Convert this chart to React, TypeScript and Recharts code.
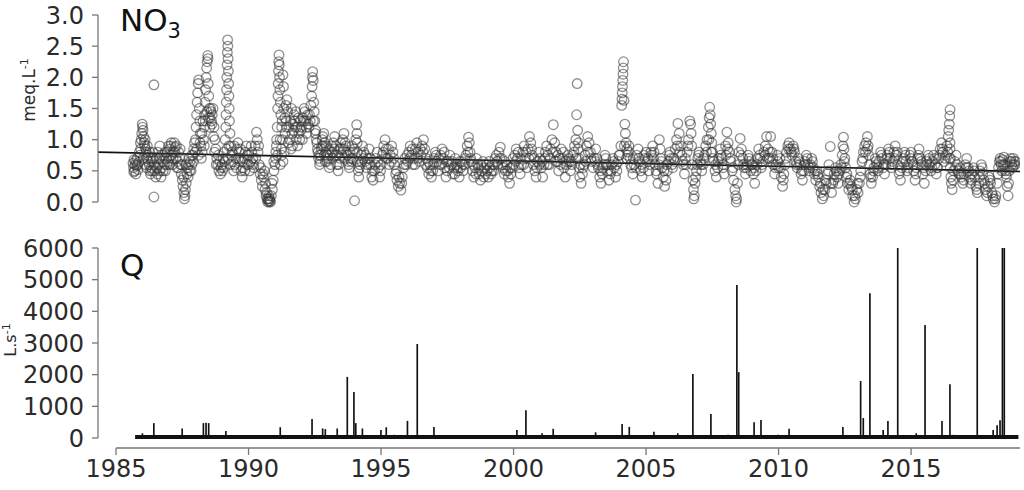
import React from 'react';
import { ScatterChart, ComposedChart, Scatter, Bar, XAxis, YAxis, ReferenceLine } from 'recharts';

// ---------- axes ----------
const X_DOMAIN: [number, number] = [1984.32, 2019.11];
const X_TICKS = [1985, 1990, 1995, 2000, 2005, 2010, 2015];
const X_AXIS_START = 1985;
const NO3_TICKS = [0, 0.5, 1, 1.5, 2, 2.5, 3];
const Q_TICKS = [0, 1000, 2000, 3000, 4000, 5000, 6000];

// ---------- NO3 (meq.L-1), [decimal year, value] ----------
const no3_1985_1987: [number, number][] = [
  [1985.64, 0.62], [1985.66, 0.55], [1985.68, 0.68], [1985.7, 0.5], [1985.72, 0.6], [1985.75, 0.45], [1985.78, 0.58],
  [1985.8, 0.7], [1985.83, 0.52], [1985.86, 0.64], [1985.9, 0.75], [1985.93, 0.85], [1985.95, 1.0], [1985.97, 1.1],
  [1986.0, 1.2], [1986.02, 1.15], [1986.04, 1.05], [1986.06, 0.95], [1986.08, 0.9], [1986.1, 1.0], [1986.12, 0.85],
  [1986.14, 0.8], [1986.16, 0.7], [1986.18, 0.9], [1986.2, 0.75], [1986.25, 0.6], [1986.28, 0.5], [1986.3, 0.45],
  [1986.33, 0.55], [1986.35, 0.65], [1986.38, 0.8], [1986.4, 0.7], [1986.43, 1.88], [1986.43, 0.08], [1986.46, 0.5],
  [1986.5, 0.4], [1986.53, 0.55], [1986.56, 0.45], [1986.6, 0.6], [1986.63, 0.7], [1986.66, 0.5], [1986.7, 0.4],
  [1986.73, 0.55], [1986.76, 0.65], [1986.8, 0.75], [1986.83, 0.6], [1986.86, 0.5], [1986.9, 0.7], [1986.93, 0.8],
  [1986.96, 0.65],
];
const no3_1987_1988: [number, number][] = [
  [1987.0, 0.7], [1987.03, 0.85], [1987.06, 0.9], [1987.1, 0.75], [1987.13, 0.6], [1987.16, 0.8], [1987.2, 0.95],
  [1987.23, 0.88], [1987.26, 0.7], [1987.3, 0.55], [1987.33, 0.65], [1987.36, 0.8], [1987.4, 0.72], [1987.43, 0.6],
  [1987.46, 0.45], [1987.5, 0.35], [1987.53, 0.25], [1987.56, 0.15], [1987.58, 0.05], [1987.6, 0.1], [1987.62, 0.2],
  [1987.65, 0.3], [1987.68, 0.45], [1987.7, 0.55], [1987.73, 0.6], [1987.76, 0.7], [1987.8, 0.65], [1987.83, 0.5],
  [1987.86, 0.6], [1987.9, 0.75], [1987.93, 0.85], [1987.96, 0.95],
];
const no3_1988_1989: [number, number][] = [
  [1988.0, 1.0], [1988.02, 1.2], [1988.04, 1.4], [1988.06, 1.6], [1988.08, 1.75], [1988.1, 1.9], [1988.12, 1.96],
  [1988.14, 1.5], [1988.16, 1.3], [1988.18, 1.1], [1988.2, 0.9], [1988.22, 0.7], [1988.25, 0.8], [1988.3, 1.0],
  [1988.32, 1.2], [1988.34, 1.4], [1988.36, 1.6], [1988.38, 1.8], [1988.4, 2.0], [1988.42, 2.15], [1988.44, 2.25],
  [1988.46, 2.35], [1988.47, 2.3], [1988.48, 1.9], [1988.5, 1.7], [1988.52, 1.5], [1988.55, 1.35], [1988.58, 1.45],
  [1988.6, 1.3], [1988.63, 1.4], [1988.66, 1.5], [1988.7, 1.2], [1988.73, 1.0], [1988.76, 0.85], [1988.8, 0.7],
  [1988.84, 0.6], [1988.88, 0.5], [1988.92, 0.65], [1988.96, 0.55],
];
const no3_1989_1990: [number, number][] = [
  [1989.0, 0.6], [1989.04, 0.7], [1989.08, 0.8], [1989.12, 1.0], [1989.14, 1.2], [1989.15, 1.4], [1989.16, 1.6],
  [1989.17, 1.8], [1989.18, 2.0], [1989.19, 2.2], [1989.2, 2.4], [1989.21, 2.6], [1989.22, 2.5], [1989.23, 2.3],
  [1989.24, 2.1], [1989.25, 1.9], [1989.26, 1.7], [1989.27, 1.5], [1989.28, 1.3], [1989.3, 1.1], [1989.33, 0.9],
  [1989.36, 0.75], [1989.4, 0.65], [1989.44, 0.5], [1989.48, 0.6], [1989.52, 0.7], [1989.56, 0.85], [1989.6, 0.95],
  [1989.64, 0.8], [1989.68, 0.65], [1989.72, 0.5], [1989.76, 0.4], [1989.8, 0.55], [1989.84, 0.7], [1989.88, 0.8],
  [1989.92, 0.9], [1989.96, 0.75],
];
const no3_1990_1991: [number, number][] = [
  [1990.0, 0.6], [1990.04, 0.5], [1990.08, 0.65], [1990.12, 0.8], [1990.16, 0.7], [1990.2, 0.55], [1990.25, 0.9],
  [1990.3, 1.12], [1990.33, 1.0], [1990.36, 0.8], [1990.4, 0.6], [1990.44, 0.45], [1990.48, 0.35], [1990.52, 0.25],
  [1990.56, 0.4], [1990.6, 0.5], [1990.64, 0.3], [1990.68, 0.15], [1990.7, 0.05], [1990.72, 0.0], [1990.75, 0.02],
  [1990.78, 0.0], [1990.8, 0.05], [1990.83, 0.0], [1990.86, 0.1], [1990.9, 0.2], [1990.93, 0.35], [1990.96, 0.5],
];
const no3_1991_1992: [number, number][] = [
  [1991.0, 0.6], [1991.03, 0.8], [1991.06, 1.0], [1991.08, 1.2], [1991.1, 1.5], [1991.11, 1.7], [1991.12, 1.9],
  [1991.13, 2.1], [1991.14, 2.25], [1991.15, 2.36], [1991.16, 2.2], [1991.17, 2.0], [1991.18, 1.8], [1991.2, 1.6],
  [1991.22, 1.4], [1991.25, 1.2], [1991.28, 1.0], [1991.3, 2.04], [1991.32, 1.85], [1991.35, 0.8], [1991.38, 1.1],
  [1991.42, 1.3], [1991.45, 1.64], [1991.48, 1.45], [1991.52, 1.2], [1991.55, 1.0], [1991.6, 0.85], [1991.64, 1.1],
  [1991.68, 1.25], [1991.72, 1.4], [1991.76, 1.2], [1991.8, 1.0], [1991.85, 0.9], [1991.9, 1.1], [1991.95, 1.3],
  [1991.2, 0.6], [1991.25, 0.75], [1991.3, 0.65],
];
const no3_1992_1993: [number, number][] = [
  [1992.0, 1.2], [1992.05, 1.35], [1992.1, 1.5], [1992.15, 1.3], [1992.2, 1.1], [1992.25, 1.25], [1992.3, 1.4],
  [1992.35, 1.55], [1992.38, 1.7], [1992.4, 1.85], [1992.41, 2.0], [1992.42, 2.09], [1992.44, 1.95], [1992.46, 1.6],
  [1992.48, 1.45], [1992.5, 1.3], [1992.53, 1.15], [1992.56, 1.0], [1992.6, 0.85], [1992.64, 0.7], [1992.68, 0.6],
  [1992.72, 0.75], [1992.76, 0.9], [1992.8, 1.05], [1992.84, 1.1], [1992.88, 0.95], [1992.92, 0.8], [1992.96, 0.65],
];
const no3_1993_1994: [number, number][] = [
  [1993.0, 0.7], [1993.05, 0.55], [1993.1, 0.6], [1993.15, 0.8], [1993.2, 0.95], [1993.25, 1.05], [1993.3, 0.9],
  [1993.35, 0.75], [1993.4, 0.6], [1993.45, 0.7], [1993.5, 0.85], [1993.55, 1.0], [1993.6, 1.1], [1993.65, 0.95],
  [1993.7, 0.8], [1993.75, 0.65], [1993.8, 0.55], [1993.85, 0.7], [1993.9, 0.9], [1993.95, 0.8], [1994.0, 0.02],
];
const no3_1994_1996: [number, number][] = [
  [1994.05, 1.0], [1994.08, 1.24], [1994.09, 1.1], [1994.1, 0.95], [1994.11, 0.8], [1994.12, 0.65], [1994.14, 0.5],
  [1994.16, 0.4], [1994.2, 0.6], [1994.25, 0.75], [1994.3, 0.9], [1994.35, 0.8], [1994.4, 0.65], [1994.45, 0.55],
  [1994.5, 0.7], [1994.55, 0.85], [1994.6, 0.6], [1994.65, 0.4], [1994.7, 0.35], [1994.75, 0.5], [1994.8, 0.7],
  [1994.85, 0.8], [1994.9, 0.55], [1994.95, 0.4],
  [1995.0, 0.6], [1995.05, 0.75], [1995.1, 0.9], [1995.15, 1.0], [1995.2, 0.85], [1995.25, 0.7], [1995.3, 0.6],
  [1995.35, 0.75], [1995.4, 0.9], [1995.45, 0.8], [1995.5, 0.6], [1995.55, 0.45], [1995.6, 0.35], [1995.65, 0.25],
  [1995.7, 0.3], [1995.75, 0.19], [1995.8, 0.4], [1995.85, 0.55], [1995.9, 0.7], [1995.95, 0.6],
];
const no3_1996_1998: [number, number][] = [
  [1996.0, 0.65], [1996.05, 0.8], [1996.1, 0.9], [1996.15, 0.75], [1996.2, 0.6], [1996.25, 0.7], [1996.3, 0.85],
  [1996.35, 0.95], [1996.4, 0.8], [1996.45, 0.65], [1996.5, 0.75], [1996.55, 0.9], [1996.6, 1.0], [1996.65, 0.85],
  [1996.7, 0.7], [1996.75, 0.55], [1996.8, 0.45], [1996.85, 0.6], [1996.9, 0.4], [1996.95, 0.5],
  [1997.0, 0.7], [1997.05, 0.8], [1997.1, 0.65], [1997.15, 0.5], [1997.2, 0.6], [1997.25, 0.75], [1997.3, 0.85],
  [1997.35, 0.7], [1997.4, 0.55], [1997.45, 0.4], [1997.5, 0.5], [1997.55, 0.65], [1997.6, 0.75], [1997.65, 0.6],
  [1997.7, 0.45], [1997.75, 0.55], [1997.8, 0.7], [1997.85, 0.6], [1997.9, 0.5], [1997.95, 0.4],
];
const no3_1998_2000: [number, number][] = [
  [1998.0, 0.55], [1998.05, 0.65], [1998.1, 0.5], [1998.15, 0.6], [1998.2, 0.75], [1998.25, 0.9], [1998.3, 1.04],
  [1998.33, 0.95], [1998.36, 0.8], [1998.4, 0.65], [1998.45, 0.5], [1998.5, 0.4], [1998.55, 0.55], [1998.6, 0.7],
  [1998.65, 0.6], [1998.7, 0.45], [1998.75, 0.35], [1998.8, 0.5], [1998.85, 0.65], [1998.9, 0.55], [1998.95, 0.45],
  [1999.0, 0.5], [1999.05, 0.4], [1999.1, 0.55], [1999.15, 0.45], [1999.2, 0.6], [1999.25, 0.5], [1999.3, 0.7],
  [1999.35, 0.75], [1999.4, 0.6], [1999.45, 0.8], [1999.5, 0.88], [1999.55, 0.7], [1999.6, 0.55], [1999.65, 0.45],
  [1999.7, 0.5], [1999.75, 0.6], [1999.8, 0.4], [1999.85, 0.3], [1999.9, 0.45], [1999.95, 0.55],
];
const no3_2000_2002: [number, number][] = [
  [2000.0, 0.6], [2000.05, 0.75], [2000.1, 0.85], [2000.15, 0.7], [2000.2, 0.55], [2000.25, 0.45], [2000.3, 0.6],
  [2000.35, 0.8], [2000.4, 0.9], [2000.45, 0.7], [2000.5, 0.55], [2000.55, 0.85], [2000.6, 1.05], [2000.65, 0.95],
  [2000.7, 0.75], [2000.75, 0.6], [2000.8, 0.5], [2000.85, 0.4], [2000.9, 0.65], [2000.95, 0.8],
  [2001.0, 0.7], [2001.05, 0.55], [2001.1, 0.4], [2001.15, 0.6], [2001.2, 0.8], [2001.25, 0.9], [2001.3, 0.75],
  [2001.35, 0.6], [2001.4, 0.85], [2001.45, 1.0], [2001.5, 1.24], [2001.55, 0.95], [2001.6, 0.8], [2001.65, 0.65],
  [2001.7, 0.5], [2001.75, 0.7], [2001.8, 0.85], [2001.85, 0.7], [2001.9, 0.55], [2001.95, 0.4],
];
const no3_2002_2004: [number, number][] = [
  [2002.0, 0.6], [2002.05, 0.75], [2002.1, 0.65], [2002.15, 0.5], [2002.2, 0.6], [2002.25, 0.75], [2002.3, 0.9],
  [2002.35, 1.0], [2002.38, 1.4], [2002.4, 1.9], [2002.42, 1.15], [2002.44, 0.85], [2002.46, 0.7], [2002.48, 0.55],
  [2002.5, 0.4], [2002.55, 0.3], [2002.6, 0.45], [2002.65, 0.6], [2002.7, 0.75], [2002.75, 0.9], [2002.8, 1.05],
  [2002.85, 0.95], [2002.9, 0.8], [2002.95, 0.65],
  [2003.0, 0.55], [2003.05, 0.7], [2003.1, 0.85], [2003.15, 0.7], [2003.2, 0.55], [2003.25, 0.4], [2003.3, 0.3],
  [2003.35, 0.45], [2003.4, 0.6], [2003.45, 0.75], [2003.5, 0.6], [2003.55, 0.5], [2003.6, 0.35], [2003.65, 0.45],
  [2003.7, 0.6], [2003.75, 0.7], [2003.8, 0.55], [2003.85, 0.4], [2003.9, 0.5], [2003.95, 0.65],
];
const no3_2004_2006: [number, number][] = [
  [2004.0, 0.75], [2004.05, 0.9], [2004.08, 1.55], [2004.09, 1.65], [2004.1, 1.75], [2004.11, 1.85], [2004.12, 1.95],
  [2004.13, 2.05], [2004.14, 2.15], [2004.15, 2.25], [2004.17, 1.63], [2004.2, 1.25], [2004.22, 1.1], [2004.25, 0.95],
  [2004.28, 0.85], [2004.3, 0.75], [2004.35, 0.9], [2004.4, 0.7], [2004.45, 0.55], [2004.5, 0.45], [2004.55, 0.6],
  [2004.6, 0.03], [2004.65, 0.75], [2004.7, 0.85], [2004.75, 0.65], [2004.8, 0.5], [2004.85, 0.4], [2004.9, 0.55],
  [2004.95, 0.7],
  [2005.0, 0.8], [2005.05, 0.65], [2005.1, 0.5], [2005.15, 0.6], [2005.2, 0.75], [2005.25, 0.9], [2005.3, 0.8],
  [2005.35, 0.6], [2005.4, 0.45], [2005.45, 0.3], [2005.5, 1.0], [2005.53, 0.85], [2005.56, 0.7], [2005.6, 0.55],
  [2005.65, 0.4], [2005.7, 0.25], [2005.75, 0.35], [2005.8, 0.5], [2005.85, 0.65], [2005.9, 0.8], [2005.95, 0.7],
];
const no3_2006_2008: [number, number][] = [
  [2006.0, 0.55], [2006.05, 0.7], [2006.1, 0.85], [2006.15, 1.0], [2006.2, 1.26], [2006.25, 1.1], [2006.3, 0.9],
  [2006.35, 0.75], [2006.4, 0.6], [2006.45, 0.45], [2006.5, 0.6], [2006.55, 0.8], [2006.6, 1.0], [2006.65, 1.3],
  [2006.68, 1.25], [2006.72, 0.9], [2006.75, 0.6], [2006.77, 0.35], [2006.79, 0.2], [2006.8, 0.05], [2006.82, 0.1],
  [2006.85, 0.3], [2006.9, 0.5], [2006.95, 0.7],
  [2007.0, 0.8], [2007.05, 0.65], [2007.1, 0.5], [2007.15, 0.6], [2007.2, 0.75], [2007.25, 0.9], [2007.3, 1.0],
  [2007.35, 1.2], [2007.38, 1.35], [2007.4, 1.52], [2007.42, 1.4], [2007.44, 1.25], [2007.46, 1.1], [2007.48, 0.95],
  [2007.5, 0.8], [2007.55, 0.65], [2007.6, 0.5], [2007.65, 0.4], [2007.7, 0.55], [2007.75, 0.7], [2007.8, 0.85],
  [2007.85, 0.7], [2007.9, 0.55], [2007.95, 0.45],
];
const no3_2008_2010: [number, number][] = [
  [2008.0, 0.9], [2008.05, 1.12], [2008.1, 0.95], [2008.15, 0.8], [2008.2, 0.65], [2008.25, 0.5], [2008.3, 0.35],
  [2008.35, 0.2], [2008.38, 0.1], [2008.4, 0.0], [2008.42, 0.05], [2008.45, 0.3], [2008.5, 0.8], [2008.55, 1.02],
  [2008.6, 0.85], [2008.65, 0.7], [2008.7, 0.55], [2008.75, 0.45], [2008.8, 0.6], [2008.85, 0.75], [2008.9, 0.65],
  [2008.95, 0.5],
  [2009.0, 0.6], [2009.05, 0.45], [2009.1, 0.3], [2009.15, 0.5], [2009.2, 0.7], [2009.25, 0.85], [2009.3, 0.7],
  [2009.35, 0.55], [2009.4, 0.65], [2009.45, 0.8], [2009.5, 0.9], [2009.55, 1.05], [2009.6, 0.85], [2009.65, 0.7],
  [2009.7, 1.05], [2009.75, 0.8], [2009.8, 0.6], [2009.85, 0.45], [2009.9, 0.6], [2009.95, 0.75],
];
const no3_2010_2012: [number, number][] = [
  [2010.0, 0.55], [2010.05, 0.7], [2010.1, 0.4], [2010.15, 0.25], [2010.2, 0.45], [2010.25, 0.6], [2010.3, 0.8],
  [2010.35, 0.9], [2010.4, 0.95], [2010.45, 0.85], [2010.5, 0.75], [2010.55, 0.9], [2010.6, 0.8], [2010.65, 0.65],
  [2010.7, 0.55], [2010.75, 0.7], [2010.8, 0.6], [2010.85, 0.45], [2010.9, 0.35], [2010.95, 0.5],
  [2011.0, 0.65], [2011.05, 0.75], [2011.1, 0.6], [2011.15, 0.5], [2011.2, 0.6], [2011.25, 0.7], [2011.3, 0.55],
  [2011.35, 0.45], [2011.4, 0.35], [2011.45, 0.5], [2011.5, 0.4], [2011.55, 0.25], [2011.6, 0.15], [2011.65, 0.05],
  [2011.7, 0.1], [2011.75, 0.2], [2011.8, 0.3], [2011.85, 0.45], [2011.9, 0.6], [2011.95, 0.89],
];
const no3_2012_2014: [number, number][] = [
  [2012.0, 0.15], [2012.05, 0.3], [2012.1, 0.45], [2012.15, 0.55], [2012.2, 0.4], [2012.25, 0.3], [2012.3, 0.5],
  [2012.35, 0.6], [2012.4, 0.75], [2012.43, 0.9], [2012.45, 1.04], [2012.47, 0.85], [2012.5, 0.7], [2012.53, 0.55],
  [2012.56, 0.4], [2012.6, 0.3], [2012.65, 0.2], [2012.7, 0.35], [2012.75, 0.25], [2012.8, 0.1], [2012.85, 0.0],
  [2012.9, 0.05], [2012.95, 0.2],
  [2013.0, 0.15], [2013.05, 0.3], [2013.1, 0.5], [2013.15, 0.65], [2013.2, 0.8], [2013.25, 0.9], [2013.3, 0.95],
  [2013.35, 1.05], [2013.38, 0.9], [2013.4, 0.75], [2013.43, 0.6], [2013.46, 0.45], [2013.5, 0.3], [2013.55, 0.4],
  [2013.6, 0.55], [2013.65, 0.7], [2013.7, 0.6], [2013.75, 0.5], [2013.8, 0.65], [2013.85, 0.8], [2013.9, 0.7],
  [2013.95, 0.55],
];
const no3_2014_2016: [number, number][] = [
  [2014.0, 0.45], [2014.05, 0.6], [2014.1, 0.75], [2014.15, 0.85], [2014.2, 0.7], [2014.25, 0.55], [2014.3, 0.65],
  [2014.35, 0.8], [2014.4, 0.9], [2014.45, 0.75], [2014.5, 0.6], [2014.55, 0.45], [2014.6, 0.35], [2014.65, 0.55],
  [2014.7, 0.7], [2014.75, 0.8], [2014.8, 0.65], [2014.85, 0.5], [2014.9, 0.6], [2014.95, 0.75],
  [2015.0, 0.8], [2015.05, 0.65], [2015.1, 0.5], [2015.15, 0.35], [2015.2, 0.55], [2015.25, 0.7], [2015.3, 0.85],
  [2015.35, 0.7], [2015.4, 0.6], [2015.45, 0.45], [2015.5, 0.3], [2015.55, 0.5], [2015.6, 0.65], [2015.65, 0.75],
  [2015.7, 0.6], [2015.75, 0.5], [2015.8, 0.65], [2015.85, 0.75], [2015.9, 0.6], [2015.95, 0.45],
];
const no3_2016_2019: [number, number][] = [
  [2016.0, 0.55], [2016.05, 0.7], [2016.1, 0.85], [2016.15, 0.95], [2016.2, 0.8], [2016.25, 0.65], [2016.3, 0.75],
  [2016.35, 0.9], [2016.4, 1.05], [2016.42, 1.15], [2016.44, 1.25], [2016.46, 1.38], [2016.47, 1.48], [2016.48, 0.55],
  [2016.5, 0.4], [2016.52, 0.3], [2016.55, 0.2], [2016.6, 0.5], [2016.65, 0.65], [2016.7, 0.75], [2016.75, 0.6],
  [2016.8, 0.45], [2016.85, 0.55], [2016.9, 0.4], [2016.95, 0.3],
  [2017.0, 0.45], [2017.05, 0.6], [2017.1, 0.7], [2017.15, 0.55], [2017.2, 0.4], [2017.25, 0.3], [2017.3, 0.45],
  [2017.35, 0.55], [2017.4, 0.4], [2017.45, 0.25], [2017.5, 0.15], [2017.55, 0.3], [2017.6, 0.5], [2017.65, 0.6],
  [2017.7, 0.45], [2017.75, 0.35], [2017.8, 0.2], [2017.85, 0.1], [2017.9, 0.25], [2017.95, 0.4],
  [2018.0, 0.3], [2018.05, 0.15], [2018.1, 0.05], [2018.15, 0.0], [2018.2, 0.1], [2018.25, 0.3], [2018.3, 0.55],
  [2018.33, 0.65], [2018.36, 0.7], [2018.4, 0.6], [2018.43, 0.5], [2018.46, 0.68], [2018.5, 0.72], [2018.53, 0.6],
  [2018.56, 0.5], [2018.6, 0.4], [2018.63, 0.25], [2018.66, 0.1], [2018.7, 0.5], [2018.73, 0.65], [2018.76, 0.7],
  [2018.8, 0.6], [2018.83, 0.55], [2018.86, 0.7], [2018.9, 0.65], [2018.93, 0.6],
];

// additional samples between the ones above (dense sampling periods)
const no3_more_1985_1991: [number, number][] = [
  [1985.67, 0.48], [1985.74, 0.66], [1985.81, 0.6], [1985.88, 0.8], [1985.92, 0.95], [1985.99, 1.25], [1986.03, 0.7],
  [1986.09, 0.6], [1986.15, 0.55], [1986.22, 0.65], [1986.27, 0.8], [1986.32, 0.7], [1986.37, 0.5], [1986.45, 0.6],
  [1986.52, 0.7], [1986.58, 0.8], [1986.65, 0.9], [1986.72, 0.75], [1986.78, 0.5], [1986.85, 0.8], [1986.92, 0.6],
  [1986.98, 0.9], [1987.02, 0.6], [1987.08, 0.95], [1987.15, 0.7], [1987.22, 0.8], [1987.28, 0.9], [1987.35, 0.55],
  [1987.42, 0.85], [1987.48, 0.6], [1987.55, 0.4], [1987.64, 0.6], [1987.72, 0.4], [1987.78, 0.5], [1987.85, 0.75],
  [1987.92, 0.65], [1987.98, 0.8], [1988.05, 0.85], [1988.11, 0.75], [1988.17, 0.95], [1988.24, 1.1], [1988.28, 1.3],
  [1988.33, 0.9], [1988.37, 1.3], [1988.43, 1.45], [1988.49, 1.35], [1988.54, 1.2], [1988.57, 1.5], [1988.62, 1.25],
  [1988.68, 1.05], [1988.72, 0.8], [1988.78, 0.6], [1988.86, 0.75], [1988.94, 0.45], [1989.02, 0.5], [1989.06, 0.55],
  [1989.1, 0.65], [1989.18, 0.85], [1989.22, 0.7], [1989.26, 0.9], [1989.31, 0.6], [1989.38, 0.8], [1989.46, 0.9],
  [1989.54, 0.55], [1989.62, 0.7], [1989.7, 0.85], [1989.78, 0.65], [1989.86, 0.5], [1989.94, 0.6], [1990.02, 0.75],
  [1990.1, 0.9], [1990.18, 0.6], [1990.27, 0.7], [1990.38, 0.9], [1990.46, 0.55], [1990.54, 0.45], [1990.62, 0.2],
  [1990.66, 0.1], [1990.74, 0.05], [1990.77, 0.1], [1990.81, 0.02], [1990.88, 0.3], [1990.95, 0.65],
];
const no3_more_1991_1994: [number, number][] = [
  [1991.02, 0.7], [1991.05, 0.9], [1991.09, 0.75], [1991.19, 1.0], [1991.24, 0.85], [1991.27, 1.3], [1991.33, 1.5],
  [1991.37, 1.35], [1991.41, 1.55], [1991.44, 1.2], [1991.5, 0.95], [1991.58, 1.3], [1991.62, 1.5], [1991.66, 0.9],
  [1991.7, 1.15], [1991.74, 1.3], [1991.78, 1.45], [1991.83, 1.2], [1991.88, 1.35], [1991.93, 1.0], [1991.98, 1.15],
  [1992.03, 1.0], [1992.08, 1.3], [1992.12, 1.45], [1992.18, 1.2], [1992.23, 1.4], [1992.28, 1.2], [1992.33, 1.3],
  [1992.45, 1.3], [1992.52, 1.1], [1992.58, 0.95], [1992.62, 0.8], [1992.66, 0.75], [1992.7, 0.65], [1992.74, 0.85],
  [1992.78, 1.0], [1992.82, 0.9], [1992.86, 0.75], [1992.9, 0.65], [1992.94, 0.9], [1992.98, 0.75], [1993.03, 0.85],
  [1993.08, 0.75], [1993.13, 0.9], [1993.18, 0.7], [1993.23, 0.85], [1993.28, 0.75], [1993.33, 0.6], [1993.38, 0.5],
  [1993.43, 0.85], [1993.48, 0.95], [1993.53, 0.75], [1993.58, 0.85], [1993.63, 0.7], [1993.68, 0.9], [1993.73, 0.75],
  [1993.78, 0.6], [1993.83, 0.8], [1993.88, 0.65], [1993.93, 0.7], [1993.98, 0.85],
];
const no3_more_1994_2001: [number, number][] = [
  [1994.18, 0.55], [1994.27, 0.65], [1994.33, 0.7], [1994.42, 0.75], [1994.48, 0.6], [1994.58, 0.7], [1994.68, 0.5],
  [1994.78, 0.6], [1994.88, 0.65], [1994.98, 0.5], [1995.08, 0.8], [1995.18, 0.7], [1995.28, 0.85], [1995.38, 0.65],
  [1995.48, 0.7], [1995.58, 0.5], [1995.68, 0.4], [1995.78, 0.3], [1995.88, 0.6], [1995.98, 0.75], [1996.08, 0.7],
  [1996.18, 0.85], [1996.28, 0.6], [1996.38, 0.7], [1996.48, 0.85], [1996.58, 0.8], [1996.68, 0.6], [1996.78, 0.65],
  [1996.88, 0.5], [1996.98, 0.6], [1997.08, 0.75], [1997.18, 0.7], [1997.28, 0.6], [1997.38, 0.8], [1997.48, 0.65],
  [1997.58, 0.55], [1997.68, 0.65], [1997.78, 0.45], [1997.88, 0.55], [1997.98, 0.65], [1998.08, 0.6], [1998.18, 0.7],
  [1998.28, 0.8], [1998.38, 0.7], [1998.48, 0.6], [1998.58, 0.45], [1998.68, 0.55], [1998.78, 0.6], [1998.88, 0.4],
  [1998.98, 0.6], [1999.08, 0.65], [1999.18, 0.5], [1999.28, 0.6], [1999.38, 0.65], [1999.48, 0.7], [1999.58, 0.6],
  [1999.68, 0.65], [1999.78, 0.5], [1999.88, 0.55], [1999.98, 0.7], [2000.08, 0.65], [2000.18, 0.8], [2000.28, 0.7],
  [2000.38, 0.6], [2000.48, 0.8], [2000.58, 0.7], [2000.68, 0.85], [2000.78, 0.7], [2000.88, 0.55], [2000.98, 0.6],
];
const no3_more_2001_2007: [number, number][] = [
  [2001.08, 0.65], [2001.18, 0.7], [2001.28, 0.6], [2001.38, 0.7], [2001.48, 0.8], [2001.58, 0.65], [2001.68, 0.75],
  [2001.78, 0.6], [2001.88, 0.8], [2001.98, 0.65], [2002.08, 0.7], [2002.18, 0.65], [2002.28, 0.8], [2002.36, 0.7],
  [2002.45, 0.95], [2002.52, 0.6], [2002.62, 0.55], [2002.72, 0.65], [2002.82, 0.8], [2002.92, 0.7], [2003.08, 0.65],
  [2003.18, 0.6], [2003.28, 0.5], [2003.38, 0.55], [2003.48, 0.7], [2003.58, 0.6], [2003.68, 0.5], [2003.78, 0.65],
  [2003.88, 0.6], [2003.98, 0.75], [2004.18, 0.9], [2004.26, 0.7], [2004.33, 0.8], [2004.42, 0.6], [2004.52, 0.7],
  [2004.62, 0.55], [2004.72, 0.7], [2004.82, 0.6], [2004.92, 0.75], [2005.08, 0.7], [2005.18, 0.8], [2005.28, 0.7],
  [2005.38, 0.5], [2005.48, 0.6], [2005.58, 0.65], [2005.68, 0.5], [2005.78, 0.6], [2005.88, 0.75], [2005.98, 0.6],
  [2006.08, 0.65], [2006.18, 0.9], [2006.28, 0.8], [2006.38, 0.65], [2006.48, 0.7], [2006.58, 0.9], [2006.7, 1.1],
  [2006.87, 0.4], [2006.93, 0.6], [2006.98, 0.75],
];
const no3_more_2007_2013: [number, number][] = [
  [2007.08, 0.6], [2007.18, 0.7], [2007.28, 0.8], [2007.37, 1.0], [2007.45, 0.8], [2007.52, 0.7], [2007.62, 0.6],
  [2007.72, 0.65], [2007.82, 0.75], [2007.92, 0.6], [2008.02, 0.75], [2008.08, 0.85], [2008.18, 0.7], [2008.28, 0.55],
  [2008.48, 0.6], [2008.58, 0.75], [2008.68, 0.6], [2008.78, 0.55], [2008.88, 0.7], [2008.98, 0.6], [2009.08, 0.55],
  [2009.18, 0.6], [2009.28, 0.75], [2009.38, 0.6], [2009.48, 0.75], [2009.58, 0.7], [2009.68, 0.8], [2009.78, 0.7],
  [2009.88, 0.55], [2009.98, 0.65], [2010.08, 0.55], [2010.18, 0.35], [2010.28, 0.7], [2010.38, 0.85], [2010.48, 0.8],
  [2010.58, 0.85], [2010.68, 0.6], [2010.78, 0.65], [2010.88, 0.5], [2010.98, 0.6], [2011.08, 0.7], [2011.18, 0.55],
  [2011.28, 0.65], [2011.38, 0.5], [2011.48, 0.45], [2011.58, 0.3], [2011.68, 0.2], [2011.78, 0.35], [2011.88, 0.5],
  [2011.98, 0.3], [2012.08, 0.35], [2012.18, 0.5], [2012.28, 0.45], [2012.38, 0.55], [2012.48, 0.65], [2012.58, 0.45],
  [2012.68, 0.3], [2012.78, 0.2], [2012.88, 0.1], [2012.98, 0.3],
];
const no3_more_2013_2019: [number, number][] = [
  [2013.08, 0.4], [2013.18, 0.7], [2013.28, 0.8], [2013.36, 0.85], [2013.48, 0.4], [2013.58, 0.5], [2013.68, 0.65],
  [2013.78, 0.55], [2013.88, 0.75], [2013.98, 0.6], [2014.08, 0.7], [2014.18, 0.8], [2014.28, 0.6], [2014.38, 0.7],
  [2014.48, 0.8], [2014.58, 0.5], [2014.68, 0.65], [2014.78, 0.75], [2014.88, 0.55], [2014.98, 0.7], [2015.08, 0.6],
  [2015.18, 0.45], [2015.28, 0.75], [2015.38, 0.65], [2015.48, 0.55], [2015.58, 0.6], [2015.68, 0.7], [2015.78, 0.55],
  [2015.88, 0.7], [2015.98, 0.55], [2016.08, 0.75], [2016.18, 0.85], [2016.28, 0.7], [2016.38, 0.8], [2016.45, 0.7],
  [2016.47, 0.95], [2016.47, 0.85], [2016.49, 0.7], [2016.58, 0.35], [2016.68, 0.55], [2016.78, 0.5], [2016.88, 0.45],
  [2016.98, 0.35], [2017.08, 0.55], [2017.18, 0.5], [2017.28, 0.35], [2017.38, 0.5], [2017.48, 0.2], [2017.58, 0.4],
  [2017.68, 0.55], [2017.78, 0.3], [2017.88, 0.15], [2017.98, 0.35], [2018.08, 0.1], [2018.18, 0.05], [2018.28, 0.45],
  [2018.38, 0.65], [2018.48, 0.6], [2018.58, 0.45], [2018.68, 0.3], [2018.78, 0.65], [2018.88, 0.6], [2018.95, 0.65],
];

// linear trend of NO3 (start / end of the fitted line)
const trendStart = { t: 1984.32, v: 0.8 };
const trendEnd = { t: 2019.11, v: 0.49 };

// ---------- Q (L.s-1) ----------
const qYears = [
  1986.0, 1986.43, 1987.5, 1988.3, 1988.4, 1988.5, 1989.15, 1990.1, 1991.2, 1992.4, 1992.8, 1992.9, 1993.35,
  1993.73, 1993.98, 1994.05, 1994.3, 1995.0, 1995.2, 1995.5, 1996.0, 1996.37, 1997.0, 1997.4, 1998.35, 1999.37,
  2000.13, 2000.47, 2001.08, 2001.5, 2002.4, 2003.1, 2004.1, 2004.37, 2005.3, 2006.2, 2006.77, 2007.0, 2007.45,
  2008.1, 2008.43, 2008.5, 2009.08, 2009.34, 2009.98, 2010.4, 2012.43, 2013.1, 2013.2, 2013.45, 2013.95, 2014.13,
  2014.5, 2015.2, 2015.53, 2016.17, 2016.47, 2016.6, 2017.5, 2018.1, 2018.25, 2018.36, 2018.45, 2018.52,
];
const qPeaks = [
  150, 470, 300, 470, 480, 470, 220, 80, 340, 600, 300, 280, 300,
  1930, 1450, 470, 300, 250, 340, 100, 540, 2970, 350, 60, 60, 60,
  250, 880, 150, 290, 80, 180, 440, 350, 200, 150, 2020, 80, 760,
  100, 4830, 2080, 500, 570, 100, 290, 350, 1800, 630, 4570, 250, 540,
  6500, 150, 3570, 540, 1700, 100, 6500, 250, 400, 560, 6500, 6500,
];
const qBaseStart = 1985.72;
const qBaseEnd = 2019.05;
const qBaseLevel = 30;
const qAxisLevel = -316; // level of the offset time axis, below Q = 0

const no3Points = [
  ...no3_1985_1987, ...no3_1987_1988, ...no3_1988_1989, ...no3_1989_1990, ...no3_1990_1991, ...no3_1991_1992,
  ...no3_1992_1993, ...no3_1993_1994, ...no3_1994_1996, ...no3_1996_1998, ...no3_1998_2000, ...no3_2000_2002,
  ...no3_2002_2004, ...no3_2004_2006, ...no3_2006_2008, ...no3_2008_2010, ...no3_2010_2012, ...no3_2012_2014,
  ...no3_2014_2016, ...no3_2016_2019,
  ...no3_more_1985_1991, ...no3_more_1991_1994, ...no3_more_1994_2001, ...no3_more_2001_2007,
  ...no3_more_2007_2013, ...no3_more_2013_2019,
].map(([t, v]) => ({ t, v }));
const qData = qYears.map((t, i) => ({ t, q: qPeaks[i] }));

// ---------- styles ----------
const FONT = 'DejaVu Sans, Verdana, sans-serif';
const AXIS = '#777';
const TEXT = '#2b2b2b';
const tickStyle = { fontSize: 24, fill: TEXT, fontFamily: FONT };

const Ring = (props: any) => {
  const { cx, cy } = props;
  if (cx == null || cy == null) return null;
  return <circle cx={cx} cy={cy} r={4.8} fill="none" stroke="#333" strokeOpacity={0.55} strokeWidth={1.3} />;
};

const XTick = (props: any) => {
  const { x, y, payload } = props;
  return (
    <g>
      <line x1={x} x2={x} y1={y + 10} y2={y + 17} stroke={AXIS} strokeWidth={1.3} />
      <text x={x} y={y + 39} textAnchor="middle" fontSize={24} fill={TEXT} fontFamily={FONT}>
        {payload.value}
      </text>
    </g>
  );
};

export default function App() {
  return (
    <div style={{ position: 'absolute', left: 0, top: 0, width: 1024, height: 490, background: '#fff', overflow: 'hidden', fontFamily: FONT }}>
      {/* NO3 panel */}
      <div style={{ position: 'absolute', left: 0, top: 0 }}>
        <ScatterChart width={1024} height={222} margin={{ top: 15, right: 4, bottom: 20, left: 0 }}>
          <XAxis type="number" dataKey="t" domain={X_DOMAIN} hide allowDataOverflow />
          <YAxis
            type="number"
            dataKey="v"
            domain={[0, 3]}
            ticks={NO3_TICKS}
            interval={0}
            width={98}
            tickSize={6}
            tickMargin={8}
            tickFormatter={(v: number) => v.toFixed(1)}
            tick={tickStyle}
            axisLine={{ stroke: AXIS, strokeWidth: 1.3 }}
            tickLine={{ stroke: AXIS, strokeWidth: 1.3 }}
          />
          <Scatter data={no3Points} dataKey="v" shape={Ring} isAnimationActive={false} />
          <ReferenceLine
            segment={[{ x: trendStart.t, y: trendStart.v }, { x: trendEnd.t, y: trendEnd.v }]}
            stroke="#111"
            strokeWidth={1.6}
            ifOverflow="visible"
          />
        </ScatterChart>
      </div>
      <div style={{ position: 'absolute', left: 120, top: 5, fontSize: 31, color: '#111', lineHeight: 1, fontFamily: FONT }}>
        NO<span style={{ fontSize: 21, position: 'relative', top: 7 }}>3</span>
      </div>
      <div style={{ position: 'absolute', left: 25 - 45, top: 90 - 11, width: 90, height: 22, transform: 'rotate(-90deg)', textAlign: 'center', fontSize: 17, lineHeight: '22px', color: TEXT, fontFamily: FONT, whiteSpace: 'nowrap' }}>
        meq.L<sup style={{ fontSize: 11 }}>-1</sup>
      </div>

      {/* Q panel */}
      <div style={{ position: 'absolute', left: 0, top: 215 }}>
        <ComposedChart width={1024} height={275} data={qData} margin={{ top: 33, right: 4, bottom: 12, left: 0 }}>
          <XAxis
            type="number"
            dataKey="t"
            domain={X_DOMAIN}
            ticks={X_TICKS}
            interval={0}
            allowDataOverflow
            height={40}
            tickSize={0}
            tickMargin={0}
            axisLine={false}
            tickLine={false}
            tick={<XTick />}
          />
          <YAxis
            type="number"
            domain={[0, 6000]}
            ticks={Q_TICKS}
            interval={0}
            allowDataOverflow
            width={98}
            tickSize={6}
            tickMargin={8}
            tick={tickStyle}
            axisLine={{ stroke: AXIS, strokeWidth: 1.3 }}
            tickLine={{ stroke: AXIS, strokeWidth: 1.3 }}
          />
          <ReferenceLine
            segment={[{ x: X_AXIS_START, y: qAxisLevel }, { x: X_DOMAIN[1], y: qAxisLevel }]}
            stroke={AXIS}
            strokeWidth={1.3}
            ifOverflow="visible"
          />
          <ReferenceLine
            segment={[{ x: qBaseStart, y: qBaseLevel }, { x: qBaseEnd, y: qBaseLevel }]}
            stroke="#111"
            strokeWidth={4}
            ifOverflow="visible"
          />
          <Bar dataKey="q" barSize={4} fill="#111" isAnimationActive={false} />
        </ComposedChart>
      </div>
      <div style={{ position: 'absolute', left: 120, top: 250, fontSize: 31, color: '#111', lineHeight: 1, fontFamily: FONT }}>Q</div>
      <div style={{ position: 'absolute', left: 7 - 35, top: 340 - 11, width: 70, height: 22, transform: 'rotate(-90deg)', textAlign: 'center', fontSize: 16, lineHeight: '22px', color: TEXT, fontFamily: FONT, whiteSpace: 'nowrap' }}>
        L.s<sup style={{ fontSize: 11 }}>-1</sup>
      </div>
    </div>
  );
}
